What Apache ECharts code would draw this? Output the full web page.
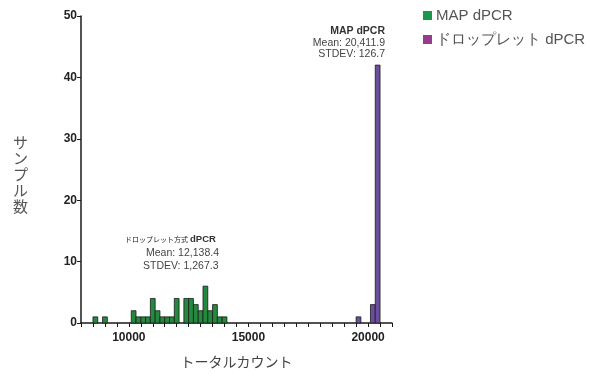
<!DOCTYPE html>
<html>
<head>
<meta charset="utf-8">
<script src="https://cdn.jsdelivr.net/npm/echarts@6/dist/echarts.min.js"></script>
<style>
  html, body { margin: 0; padding: 0; background: #fff; }
  #chart { width: 598px; height: 374px; }
</style>
</head>
<body>
<div id="chart"></div>
<script>
// Histogram of total counts per sample, 200-count bins (bin centres)
const binWidth = 200;
const greenBins   = [8600, 9000, 10200, 10400, 10600, 10800, 11000, 11200, 11400, 11600, 11800, 12000,
                     12400, 12600, 12800, 13000, 13200, 13400, 13600, 13800, 14000];
const greenCounts = [1, 1, 2, 1, 1, 1, 4, 2, 1, 1, 1, 4,
                     4, 4, 3, 2, 6, 2, 3, 1, 1];
const purpleBins   = [19600, 20200, 20400];
const purpleCounts = [1, 3, 42];

const seriesNames = ['MAP dPCR', 'ドロップレット dPCR'];
const legendColors = ['#17984a', '#963d90'];
const xTickLabels = [10000, 15000, 20000];
const yTicks = [0, 10, 20, 30, 40, 50];

const jp = '"Noto Sans CJK JP", "Noto Sans", sans-serif';
const lat = '"Liberation Sans", Arial, sans-serif';

function toData(bins, counts) {
  return bins.map((b, i) => [b, counts[i]]);
}

function renderBin(params, api) {
  const c = api.value(0), n = api.value(1);
  const p0 = api.coord([c - binWidth / 2, n]);
  const p1 = api.coord([c + binWidth / 2, 0]);
  return {
    type: 'rect',
    shape: { x: p0[0], y: p0[1], width: p1[0] - p0[0], height: p1[1] - p0[1] },
    style: api.style({ stroke: '#1c1c1c', lineWidth: 0.8 })
  };
}

const chart = echarts.init(document.getElementById('chart'), null, { renderer: 'canvas' });
chart.setOption({
  animation: false,
  backgroundColor: '#fff',
  grid: { left: 81, right: 206, top: 16, bottom: 50, containLabel: false },
  legend: {
    data: seriesNames.map((n, i) => ({ name: n, icon: 'rect', itemStyle: { color: legendColors[i] } })),
    orient: 'vertical',
    left: 418, top: 3,
    itemWidth: 9, itemHeight: 9, itemGap: 9,
    textStyle: { fontFamily: lat, fontSize: 15, color: '#555', padding: [0, 0, 0, -1] }
  },
  xAxis: {
    type: 'value',
    min: 8000, max: 21000, interval: 500,
    name: 'トータルカウント',
    nameLocation: 'middle', nameGap: 32,
    nameTextStyle: { fontFamily: jp, fontSize: 14, color: '#444' },
    axisLine: { lineStyle: { color: '#1a1a1a', width: 1.5 } },
    axisTick: { length: 4, lineStyle: { color: '#1a1a1a', width: 1 } },
    axisLabel: {
      fontFamily: lat, fontWeight: 'bold', fontSize: 12, color: '#222', margin: 9,
      formatter: v => xTickLabels.includes(v) ? String(v) : ''
    },
    splitLine: { show: false }
  },
  yAxis: {
    type: 'value',
    min: yTicks[0], max: yTicks[yTicks.length - 1], interval: 10,
    axisLine: { show: true, lineStyle: { color: '#1a1a1a', width: 1.5 } },
    axisTick: { show: true, length: 4, lineStyle: { color: '#1a1a1a', width: 1 } },
    axisLabel: { fontFamily: lat, fontWeight: 'bold', fontSize: 12, color: '#222', margin: 4 },
    splitLine: { show: false }
  },
  series: [
    {
      name: seriesNames[0], type: 'custom', renderItem: renderBin,
      itemStyle: { color: '#23893f' },
      encode: { x: 0, y: 1 },
      data: toData(greenBins, greenCounts)
    },
    {
      name: seriesNames[1], type: 'custom', renderItem: renderBin,
      itemStyle: { color: '#6c4e9e' },
      encode: { x: 0, y: 1 },
      data: toData(purpleBins, purpleCounts)
    }
  ],
  graphic: [
    { type: 'text', left: 13, top: 134,
      style: { text: 'サ\nン\nプ\nル\n数', font: '15px ' + jp, fill: '#555', lineHeight: 16, textAlign: 'left' } },
    { type: 'text', right: 213, top: 26,
      style: { text: 'MAP dPCR', font: 'bold 10.5px ' + lat, fill: '#333', textAlign: 'right' } },
    { type: 'text', right: 213, top: 38,
      style: { text: 'Mean: 20,411.9', font: '10.5px ' + lat, fill: '#444', textAlign: 'right' } },
    { type: 'text', right: 213, top: 49,
      style: { text: 'STDEV: 126.7', font: '10.5px ' + lat, fill: '#444', textAlign: 'right' } },
    { type: 'text', left: 125, top: 234,
      style: {
        text: '{j|ドロップレット方式}{b|dPCR}',
        rich: {
          j: { font: '7px ' + jp, fill: '#222', padding: [0, 2, 0, 0] },
          b: { font: 'bold 9.5px ' + lat, fill: '#333' }
        }
      } },
    { type: 'text', left: 146, top: 248,
      style: { text: 'Mean: 12,138.4', font: '10.5px ' + lat, fill: '#444' } },
    { type: 'text', left: 143, top: 261,
      style: { text: 'STDEV: 1,267.3', font: '10.5px ' + lat, fill: '#444' } }
  ]
});
</script>
</body>
</html>
